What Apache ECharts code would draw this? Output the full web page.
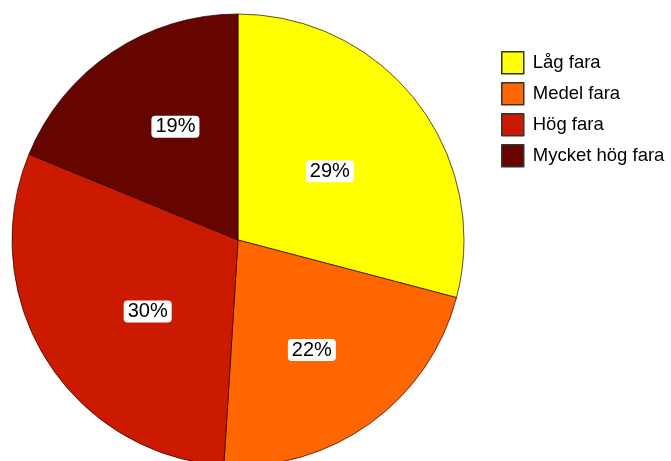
<!DOCTYPE html>
<html><head><meta charset="utf-8">
<script src="https://cdn.jsdelivr.net/npm/echarts@6/dist/echarts.min.js"></script>
<style>html,body{margin:0;padding:0;background:#fff}#c{width:671px;height:461px}</style>
</head><body><div id="c"></div>
<script>
const categories = ['Låg fara', 'Medel fara', 'Hög fara', 'Mycket hög fara'];
const values = [29.1, 21.9, 30.2, 18.8];
const colors = ['#FFFF00', '#FF6600', '#CC1A00', '#660500'];
const labelOffsets = [[0, 2], [6, 16], [8, 10], [2, -17]];

const chart = echarts.init(document.getElementById('c'));
chart.setOption({
  animation: false,
  legend: {
    orient: 'vertical',
    left: 496, top: 46,
    itemWidth: 22, itemHeight: 22, itemGap: 7.5,
    icon: 'rect',
    itemStyle: { borderColor: '#333', borderWidth: 1.5 },
    textStyle: { fontFamily: 'Liberation Sans, Arial', fontSize: 18.5, lineHeight: 22, color: '#000', padding: [0,0,0,4] },
    data: categories
  },
  series: [{
    type: 'pie',
    center: [238, 240],
    radius: [0, 226],
    startAngle: 90,
    clockwise: true,
    itemStyle: { borderColor: 'rgba(40,0,0,0.7)', borderWidth: 1 },
    label: {
      show: true, position: 'inside',
      formatter: p => Math.round(p.value) + '%',
      fontFamily: 'Liberation Sans, Arial', fontSize: 20, color: '#000',
      backgroundColor: '#fff', borderRadius: 4, padding: [2, 4, 0, 4]
    },
    labelLine: { show: false },
    emphasis: { disabled: true },
    data: categories.map((c, i) => ({ name: c, value: values[i], itemStyle: { color: colors[i] }, label: { offset: labelOffsets[i] } }))
  }]
});
</script></body></html>
